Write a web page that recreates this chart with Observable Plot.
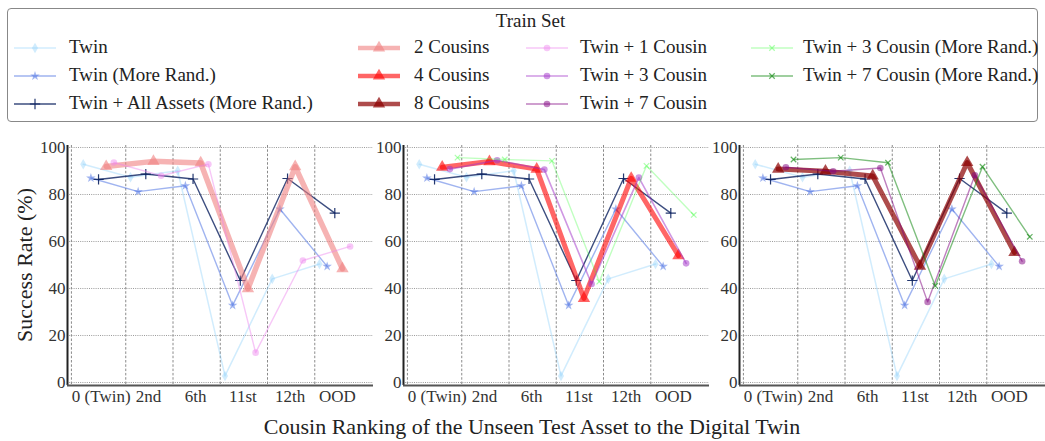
<!DOCTYPE html>
<html><head><meta charset="utf-8">
<script src="https://cdn.jsdelivr.net/npm/d3@7"></script>
<script src="https://cdn.jsdelivr.net/npm/@observablehq/plot@0.6"></script>
<style>
body{margin:0;background:#fff;font-family:"Liberation Serif","Times New Roman",serif;color:#222;}
#root{position:relative;width:1045px;height:441px;overflow:hidden;background:#fff;font-family:"Liberation Serif",serif;}
.abs{position:absolute;font-family:"Liberation Serif",serif;color:#222;}
#legend{position:absolute;left:7px;top:8px;width:1031px;height:114px;border:1px solid #888;border-radius:4px;box-sizing:border-box;}
.lg{position:absolute;font-family:"Liberation Serif",serif;font-size:19px;white-space:nowrap;line-height:20px;color:#222;}
.lgs{position:absolute;}
</style></head><body><div id="root"><div id="legend"></div></div>
<script>
// ---- data ----
const rankings = ["0 (Twin)", "2nd", "6th", "11st", "12th", "OOD"];
const yTicks = [0, 20, 40, 60, 80, 100];
const twin            = [92.9, 87.3, 90.1, 2.8, 44.1, 50.4];
const twinMoreRand    = [87.0, 81.2, 83.7, 32.8, 73.8, 49.4];
const twinAllAssets   = [86.4, 88.7, 86.6, 43.4, 86.8, 72.1];
const cousins2        = [91.9, 94.1, 93.4, 39.9, 91.8, 48.4];
const cousins4        = [91.6, 94.0, 90.8, 35.8, 86.9, 54.0];
const cousins8        = [90.8, 89.9, 87.9, 49.5, 93.6, 55.3];
const twin1Cousin     = [93.6, 88.0, 92.9, 12.7, 51.9, 57.9];
const twin3Cousin     = [90.8, 94.6, 90.6, 41.9, 87.2, 50.7];
const twin7Cousin     = [91.6, 89.9, 91.3, 34.3, 88.2, 51.6];
const twin3CousinMR   = [95.7, 94.9, 94.3, 42.9, 92.2, 71.3];
const twin7CousinMR   = [94.9, 95.7, 93.5, 41.1, 91.8, 62.0];

const seriesNames = ["Twin", "Twin (More Rand.)", "Twin + All Assets (More Rand.)",
  "2 Cousins", "4 Cousins", "8 Cousins",
  "Twin + 1 Cousin", "Twin + 3 Cousin", "Twin + 7 Cousin",
  "Twin + 3 Cousin (More Rand.)", "Twin + 7 Cousin (More Rand.)"];
const seriesValues = [twin, twinMoreRand, twinAllAssets, cousins2, cousins4, cousins8,
  twin1Cousin, twin3Cousin, twin7Cousin, twin3CousinMR, twin7CousinMR];
const panelSeries = [
  ["Twin", "Twin (More Rand.)", "Twin + All Assets (More Rand.)", "2 Cousins", "Twin + 1 Cousin"],
  ["Twin", "Twin (More Rand.)", "Twin + All Assets (More Rand.)", "4 Cousins", "Twin + 3 Cousin", "Twin + 3 Cousin (More Rand.)"],
  ["Twin", "Twin (More Rand.)", "Twin + All Assets (More Rand.)", "8 Cousins", "Twin + 7 Cousin", "Twin + 7 Cousin (More Rand.)"]
];

// ---- styles ----
const style = {
  "Twin": {c:"#87cefa", o:0.38, w:1.5, sym:"diamond", r:3.2, stroke:false},
  "Twin (More Rand.)": {c:"#4169e1", o:0.5, w:1.4, sym:"star", r:3, stroke:false},
  "Twin + All Assets (More Rand.)": {c:"#0c2260", o:0.8, w:1.4, sym:"plus", r:3.4, stroke:true},
  "2 Cousins": {c:"#f08080", o:0.6, w:5.5, sym:"triangle", r:4.6, stroke:false},
  "4 Cousins": {c:"#ff0000", o:0.6, w:5, sym:"triangle", r:4.6, stroke:false},
  "8 Cousins": {c:"#8b0000", o:0.7, w:5, sym:"triangle", r:4.6, stroke:false},
  "Twin + 1 Cousin": {c:"#ee82ee", o:0.45, w:1.4, sym:"circle", r:3.3, stroke:false},
  "Twin + 3 Cousin": {c:"#a030c8", o:0.5, w:1.6, sym:"circle", r:3.3, stroke:false},
  "Twin + 7 Cousin": {c:"#800080", o:0.5, w:1.4, sym:"circle", r:3.3, stroke:false},
  "Twin + 3 Cousin (More Rand.)": {c:"#30ff30", o:0.3, w:1.4, sym:"times", r:2.6, stroke:true},
  "Twin + 7 Cousin (More Rand.)": {c:"#008000", o:0.5, w:1.4, sym:"times", r:2.6, stroke:true}
};

const root = document.getElementById("root");
const xDomain = [-0.233, 6.243];
const yDomain = [-1.28, 100.85];
const vGrid = [-0.15, 1, 2, 3, 4, 5];
const symMap = {diamond: d3.symbolDiamond, star: d3.symbolStar, plus: d3.symbolPlus, triangle: d3.symbolTriangle, circle: d3.symbolCircle, times: d3.symbolTimes};

function makePanel(p, left) {
  const names = panelSeries[p];
  const marks = [
    Plot.ruleY(yTicks, {stroke:"#9a9a9a", strokeDasharray:"1,1.2", strokeWidth:1}),
    Plot.ruleX(vGrid, {stroke:"#8a8a8a", strokeDasharray:"2.5,1.8", strokeWidth:1})
  ];
  const order = seriesNames.filter(n => names.includes(n));
  order.forEach(n => {
    const k = names.indexOf(n);
    const vals = seriesValues[seriesNames.indexOf(n)];
    const rows = vals.map((v, i) => ({x: i + 0.1 + 0.162 * k, y: v}));
    const s = style[n];
    marks.push(Plot.line(rows, {x:"x", y:"y", stroke:s.c, strokeOpacity:s.o, strokeWidth:s.w}));
    if (s.stroke) {
      marks.push(Plot.dot(rows, {x:"x", y:"y", symbol:s.sym, r:s.r, stroke:s.c, strokeOpacity:Math.min(1, s.o + 0.1), strokeWidth:1.2, fill:"none"}));
    } else {
      marks.push(Plot.dot(rows, {x:"x", y:"y", symbol:s.sym, r:s.r, fill:s.c, fillOpacity:s.o, stroke:"none"}));
    }
  });
  marks.push(
    Plot.axisY(yTicks, {tickSize:0, tickPadding:2, fontSize:17, fill:"#333", label:null}),
    Plot.axisX([0.48, 1.48, 2.48, 3.48, 4.48, 5.48], {tickSize:0, tickPadding:4, fontSize:17, fill:"#333", label:null, tickFormat: d => rankings[Math.round(d - 0.48)]}),
    Plot.ruleX([xDomain[0]], {stroke:"#222", strokeWidth:2}),
    Plot.ruleY([yDomain[0]], {stroke:"#555", strokeWidth:2})
  );
  const svg = Plot.plot({
    width: 336, height: 275,
    marginLeft: 30, marginRight: 0, marginTop: 10, marginBottom: 25,
    x: {domain: xDomain},
    y: {domain: yDomain},
    style: {fontFamily: '"Liberation Serif", serif', background: "transparent", overflow: "visible"},
    marks
  });
  svg.style.position = "absolute";
  svg.style.left = left + "px";
  svg.style.top = "135px";
  root.appendChild(svg);
}
makePanel(0, 37);
makePanel(1, 373);
makePanel(2, 709);

// axis titles
const xl = document.createElement("div");
xl.className = "abs";
xl.style.cssText = "left:0;width:1064px;text-align:center;top:414px;font-size:22px;line-height:26px;";
xl.textContent = "Cousin Ranking of the Unseen Test Asset to the Digital Twin";
root.appendChild(xl);
const yl = document.createElement("div");
yl.className = "abs";
yl.style.cssText = "left:25px;top:265px;font-size:22px;line-height:24px;white-space:nowrap;transform:translate(-50%,-50%) rotate(-90deg);";
yl.textContent = "Success Rate (%)";
root.appendChild(yl);

// legend
const legend = document.getElementById("legend");
const t = document.createElement("div");
t.className = "lg";
t.style.cssText += "left:0;width:1045px;text-align:center;top:2px;";
t.textContent = "Train Set";
legend.appendChild(t);
const cols = [
  {lx: 6, tx: 61, names: ["Twin", "Twin (More Rand.)", "Twin + All Assets (More Rand.)"]},
  {lx: 350, tx: 406, names: ["2 Cousins", "4 Cousins", "8 Cousins"]},
  {lx: 518, tx: 572, names: ["Twin + 1 Cousin", "Twin + 3 Cousin", "Twin + 7 Cousin"]},
  {lx: 743, tx: 795, names: ["Twin + 3 Cousin (More Rand.)", "Twin + 7 Cousin (More Rand.)"]}
];
const rowY = [39, 67, 95];
cols.forEach(col => col.names.forEach((n, i) => {
  const s = style[n];
  const sv = d3.create("svg").attr("width", 44).attr("height", 16).attr("class", "lgs")
    .style("left", col.lx + "px").style("top", (rowY[i] - 8) + "px");
  sv.append("line").attr("x1", 0).attr("x2", 42).attr("y1", 8).attr("y2", 8)
    .attr("stroke", s.c).attr("stroke-opacity", s.o).attr("stroke-width", Math.min(s.w, 4.5));
  const path = d3.symbol(symMap[s.sym], Math.PI * s.r * s.r)();
  const m = sv.append("path").attr("d", path).attr("transform", "translate(21,8)");
  if (s.stroke) m.attr("fill", "none").attr("stroke", s.c).attr("stroke-opacity", Math.min(1, s.o + 0.1)).attr("stroke-width", 1.2);
  else m.attr("fill", s.c).attr("fill-opacity", s.o);
  legend.appendChild(sv.node());
  const d = document.createElement("div");
  d.className = "lg";
  d.style.left = col.tx + "px";
  d.style.top = (rowY[i] - 11) + "px";
  d.textContent = n;
  legend.appendChild(d);
}));
</script></body></html>
